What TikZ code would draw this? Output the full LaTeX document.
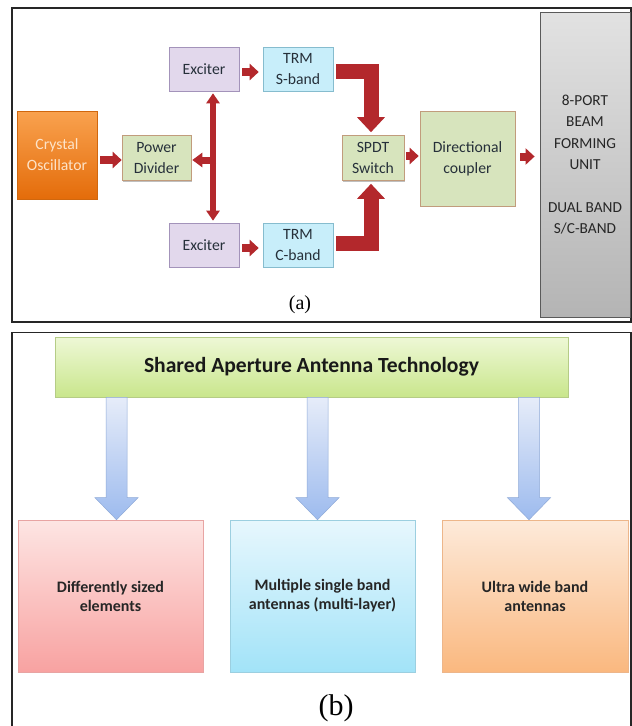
\documentclass[tikz,border=0pt]{standalone}
\usepackage{fontspec}
\setmainfont{Carlito}
\newfontfamily\capfont{Liberation Serif}
\usetikzlibrary{arrows.meta,calc,shadows}
\definecolor{txtdark}{HTML}{26303A}
\definecolor{arrred}{HTML}{B3282C}
\definecolor{orgtop}{HTML}{F9A24F}
\definecolor{orgbot}{HTML}{E46C0A}
\definecolor{orgline}{HTML}{D0670E}
\definecolor{cotext}{HTML}{FDE3C8}
\definecolor{grnfill}{HTML}{D7E4BD}
\definecolor{grnline}{HTML}{C19C7C}
\definecolor{purfill}{HTML}{E2D8EC}
\definecolor{purline}{HTML}{A393BA}
\definecolor{cyanfill}{HTML}{C8EEFA}
\definecolor{cyanline}{HTML}{86BCCE}
\definecolor{graytop}{HTML}{E2E2E2}
\definecolor{graymid}{HTML}{D0D0D0}
\definecolor{graybot}{HTML}{B4B4B4}
\definecolor{grayline}{HTML}{5A5A5A}
\definecolor{ttop}{HTML}{EEF8D6}
\definecolor{tbot}{HTML}{C9E68C}
\definecolor{tline}{HTML}{B5CC86}
\definecolor{ptop}{HTML}{FDE5E3}
\definecolor{pbot}{HTML}{F8A2A1}
\definecolor{pline}{HTML}{E8A4A3}
\definecolor{ctop}{HTML}{E7F7FD}
\definecolor{cbot}{HTML}{A2E3F8}
\definecolor{cline}{HTML}{9CCFE0}
\definecolor{otop}{HTML}{FDEADA}
\definecolor{obot}{HTML}{FAB87F}
\definecolor{oline}{HTML}{EDB68A}
\definecolor{btop}{HTML}{E6ECF9}
\definecolor{bbot}{HTML}{9DBBEE}
\definecolor{bline}{HTML}{8FAAD8}
\newcommand\blockdown[2]{%
  \shade[bluearrow] ($(#1)+(-10.5,0)$) -- ($(#2)+(-10.5,-22)$) -- ($(#2)+(-21.5,-22)$) -- (#2)
    -- ($(#2)+(21.5,-22)$) -- ($(#2)+(10.5,-22)$) -- ($(#1)+(10.5,0)$) -- cycle;}
\begin{document}
\begin{tikzpicture}[x=1pt,y=-1pt,
  frame/.style={draw=black!85, line width=1.2pt},
  shad/.style={drop shadow={shadow xshift=1.2pt, shadow yshift=-1.2pt, opacity=0.25, fill=black}},
  abox/.style={draw, line width=0.6pt, inner sep=0pt, align=center, text=txtdark,
    font=\fontsize{15.7}{21}\selectfont, shad},
  grnbox/.style={abox, fill=grnfill, draw=grnline},
  purbox/.style={abox, fill=purfill, draw=purline, minimum width=70pt, minimum height=44pt},
  cyanbox/.style={abox, fill=cyanfill, draw=cyanline, minimum width=70pt, minimum height=44pt},
  bbox/.style={draw, line width=0.6pt, inner sep=0pt, align=center, text=black!85,
    font=\bfseries\fontsize{16}{19}\selectfont, shad, minimum height=152pt},
  smallarr/.style={draw=arrred, line width=8pt, -{Triangle[width=16pt,length=9pt]}},
  bigarr/.style={draw=arrred, line width=15pt, miter limit=10, -{Triangle[width=27pt,length=15pt]}},
  thinarr/.style={draw=arrred, line width=6pt, {Triangle[width=13pt,length=10pt]}-{Triangle[width=13pt,length=10pt]}},
  brancharr/.style={draw=arrred, line width=7pt, -{Triangle[width=14pt,length=10pt]}},
  bluearrow/.style={top color=btop, bottom color=bbot, draw=bline, line width=0.5pt},
  captxt/.style={text=black, inner sep=0pt}
]
\useasboundingbox (0,0) rectangle (632,726);
\fill[white] (0,0) rectangle (632,726);

% ---------- panel (a) ----------
\draw[frame] (12,8) rectangle (631,322);

\node[abox, top color=orgtop, bottom color=orgbot, draw=orgline, text=cotext,
  minimum width=80pt, minimum height=88pt] (co) at (57,155) {Crystal\\Oscillator};
\node[grnbox, minimum width=69pt, minimum height=45pt] (pd) at (156.5,158) {Power\\Divider};
\node[purbox] (ext) at (204,69) {Exciter};
\node[purbox] (exb) at (204,245) {Exciter};
\node[cyanbox] (trms) at (298,69) {TRM\\S-band};
\node[cyanbox] (trmc) at (298,245) {TRM\\C-band};
\node[grnbox, minimum width=62pt, minimum height=45pt] (spdt) at (373,158) {SPDT\\Switch};
\node[grnbox, minimum width=95pt, minimum height=95pt] (dc) at (467.5,158.5) {Directional\\coupler};
\node[abox, top color=graytop, middle color=graymid, bottom color=graybot, draw=grayline,
  line width=0.8pt, text=black!85, minimum width=90pt, minimum height=305pt,
  font=\fontsize{15.3}{21.3}\selectfont] (bfu) at (585,164.5)
  {8-PORT\\BEAM\\FORMING\\UNIT\\\mbox{}\\DUAL BAND\\S/C-BAND};

% small arrows
\coordinate (a1) at ($(co.east)+(3,5)$);
\draw[smallarr] (a1) -- (a1 -| pd.west);
\coordinate (a2) at ($(ext.east)+(3,3)$);
\draw[smallarr] (a2) -- ($(a2 -| trms.west)+(-4,0)$);
\coordinate (a3) at ($(exb.east)+(3,3)$);
\draw[smallarr] (a3) -- ($(a3 -| trmc.west)+(-4,0)$);
\coordinate (a4) at ($(spdt.east)+(2,-2)$);
\draw[smallarr] (a4) -- ($(a4 -| dc.west)+(-1,0)$);
\coordinate (a5) at ($(dc.east)+(5,-2)$);
\draw[smallarr] (a5) -- ($(a5 -| bfu.west)+(-5,0)$);

% vertical double arrow with branch
\coordinate (vtop) at ($(ext.south)+(9,2)$);
\coordinate (vbot) at ($(exb.north)+(9,-2)$);
\draw[thinarr] (vtop) -- (vbot);
\coordinate (vj) at (vtop |- a1);
\draw[brancharr] ($(vj)+(3,0)$) -- ($(pd.east |- vj)+(1,0)$);

% elbow arrows
\coordinate (es) at ($(trms.east)+(3,2)$);
\coordinate (ec) at ($(trmc.east)+(3,-2)$);
\coordinate (ex) at ($(spdt.north)+(-2,0)$);
\draw[bigarr] (es) -| ($(ex)+(0,-3)$);
\draw[bigarr] (ec) -| ($(spdt.south)+(-2,3)$);

\node[captxt, font=\capfont\fontsize{20}{24}\selectfont] (capa) at (300,305) {(a)};

% ---------- panel (b) ----------
\draw[frame] (12,332.5) rectangle (631,740);

\node[draw=tline, line width=0.6pt, top color=ttop, bottom color=tbot, shad,
  minimum width=513pt, minimum height=60pt, inner sep=0pt, text=black!90,
  font=\bfseries\fontsize{21.6}{25}\selectfont] (title) at (311.5,367)
  {Shared Aperture Antenna Technology};

\node[bbox, top color=ptop, bottom color=pbot, draw=pline, minimum width=185pt] (b1) at (110.5,596)
  {Differently sized\\elements};
\node[bbox, top color=ctop, bottom color=cbot, draw=cline, minimum width=185pt] (b2) at (322.5,596)
  {Multiple single band\\antennas (multi-layer)};
\node[bbox, top color=otop, bottom color=obot, draw=oline, minimum width=186pt] (b3) at (535,596)
  {Ultra wide band\\antennas};

\coordinate (e1) at ($(b1.north)+(6,0)$);
\coordinate (e2) at ($(b2.north)+(-5,0)$);
\coordinate (e3) at ($(b3.north)+(-6,0)$);
\coordinate (s1) at (title.south -| e1);
\coordinate (s2) at (title.south -| e2);
\coordinate (s3) at (title.south -| e3);
\blockdown{s1}{e1}
\blockdown{s2}{e2}
\blockdown{s3}{e3}

\node[captxt, font=\capfont\fontsize{30}{34}\selectfont] (capb) at (336,708) {(b)};
\end{tikzpicture}
\end{document}
